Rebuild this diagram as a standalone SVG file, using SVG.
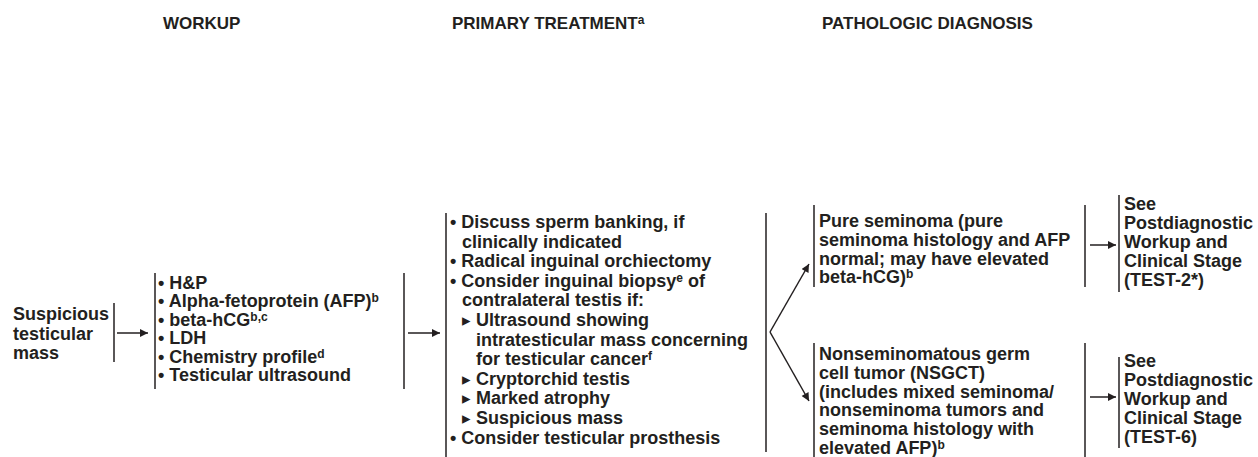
<svg xmlns="http://www.w3.org/2000/svg" width="1258" height="457" viewBox="0 0 1258 457">
<defs>
<marker id="ah" viewBox="0 0 10 10" refX="10" refY="5" markerWidth="9" markerHeight="8" markerUnits="userSpaceOnUse" orient="auto">
<path d="M0,0 L10,5 L0,10 Z" fill="#231f20"/>
</marker>
<style>
text{font-family:"Liberation Sans",Arial,Helvetica,sans-serif;font-weight:bold;font-size:18px;fill:#231f20}
.hd{font-size:17px}
.sup{font-size:12px}
.tri{font-family:"DejaVu Sans",sans-serif;font-size:17px}
.bar{stroke:#231f20;stroke-width:1.5;fill:none}
.conn line{stroke:#231f20;stroke-width:1.5;marker-end:url(#ah)}
</style>
</defs>
<rect width="1258" height="457" fill="#ffffff"/>
<g id="headers">
<text class="hd" x="163" y="29">WORKUP</text>
<text class="hd" x="452" y="29">PRIMARY TREATMENT<tspan class="sup" dy="-5">a</tspan></text>
<text class="hd" x="822" y="29">PATHOLOGIC DIAGNOSIS</text>
</g>
<g id="node-suspicious">
<text x="13" y="320">Suspicious</text>
<text x="13" y="339.5">testicular</text>
<text x="13" y="359">mass</text>
<line class="bar" x1="114" y1="303" x2="114" y2="362"/>
</g>
<g id="node-workup">
<line class="bar" x1="155" y1="273" x2="155" y2="389"/>
<text x="158" y="289">• H&amp;P</text>
<text x="158" y="307.4">• Alpha-fetoprotein (AFP)<tspan class="sup" dy="-5">b</tspan></text>
<text x="158" y="325.8">• beta-hCG<tspan class="sup" dy="-5">b,c</tspan></text>
<text x="158" y="344.2">• LDH</text>
<text x="158" y="362.6">• Chemistry profile<tspan class="sup" dy="-5">d</tspan></text>
<text x="158" y="381">• Testicular ultrasound</text>
<line class="bar" x1="404" y1="273" x2="404" y2="389"/>
</g>
<g id="node-primary">
<line class="bar" x1="446" y1="213" x2="446" y2="457"/>
<text x="450" y="228">• Discuss sperm banking, if</text>
<text x="462" y="247.6">clinically indicated</text>
<text x="450" y="267.2">• Radical inguinal orchiectomy</text>
<text x="450" y="286.8">• Consider inguinal biopsy<tspan class="sup" dy="-5">e</tspan><tspan dy="5"> of</tspan></text>
<text x="462" y="306.4">contralateral testis if:</text>
<text class="tri" x="462" y="326">▸</text><text x="476" y="326">Ultrasound showing</text>
<text x="476" y="345.6">intratesticular mass concerning</text>
<text x="476" y="365.2">for testicular cancer<tspan class="sup" dy="-5">f</tspan></text>
<text class="tri" x="462" y="384.8">▸</text><text x="476" y="384.8">Cryptorchid testis</text>
<text class="tri" x="462" y="404.4">▸</text><text x="476" y="404.4">Marked atrophy</text>
<text class="tri" x="462" y="424">▸</text><text x="476" y="424">Suspicious mass</text>
<text x="450" y="443.6">• Consider testicular prosthesis</text>
<line class="bar" x1="766" y1="213" x2="766" y2="452"/>
</g>
<g id="node-seminoma">
<line class="bar" x1="814" y1="205" x2="814" y2="287"/>
<text x="819" y="227">Pure seminoma (pure</text>
<text x="819" y="245.8">seminoma histology and AFP</text>
<text x="819" y="264.6">normal; may have elevated</text>
<text x="819" y="283.4">beta-hCG)<tspan class="sup" dy="-5">b</tspan></text>
<line class="bar" x1="1085" y1="205" x2="1085" y2="287"/>
</g>
<g id="node-see-test2">
<line class="bar" x1="1119" y1="195" x2="1119" y2="292"/>
<text x="1124" y="210">See</text>
<text x="1124" y="229">Postdiagnostic</text>
<text x="1124" y="248">Workup and</text>
<text x="1124" y="267">Clinical Stage</text>
<text x="1124" y="286">(TEST-2*)</text>
</g>
<g id="node-nsgct">
<line class="bar" x1="814" y1="343" x2="814" y2="457"/>
<text x="819" y="360">Nonseminomatous germ</text>
<text x="819" y="378.8">cell tumor (NSGCT)</text>
<text x="819" y="397.6">(includes mixed seminoma/</text>
<text x="819" y="416.4">nonseminoma tumors and</text>
<text x="819" y="435.2">seminoma histology with</text>
<text x="819" y="454">elevated AFP)<tspan class="sup" dy="-5">b</tspan></text>
<line class="bar" x1="1085" y1="343" x2="1085" y2="457"/>
</g>
<g id="node-see-test6">
<line class="bar" x1="1119" y1="357" x2="1119" y2="448"/>
<text x="1124" y="367">See</text>
<text x="1124" y="386">Postdiagnostic</text>
<text x="1124" y="405">Workup and</text>
<text x="1124" y="424">Clinical Stage</text>
<text x="1124" y="443">(TEST-6)</text>
</g>
<g id="connectors" class="conn">
<line x1="117" y1="333" x2="148" y2="333"/>
<line x1="408" y1="333" x2="440" y2="333"/>
<line x1="770" y1="332" x2="809" y2="264"/>
<line x1="770" y1="332" x2="809" y2="401"/>
<line x1="1090" y1="245" x2="1116" y2="245"/>
<line x1="1090" y1="397" x2="1116" y2="397"/>
</g>
</svg>
